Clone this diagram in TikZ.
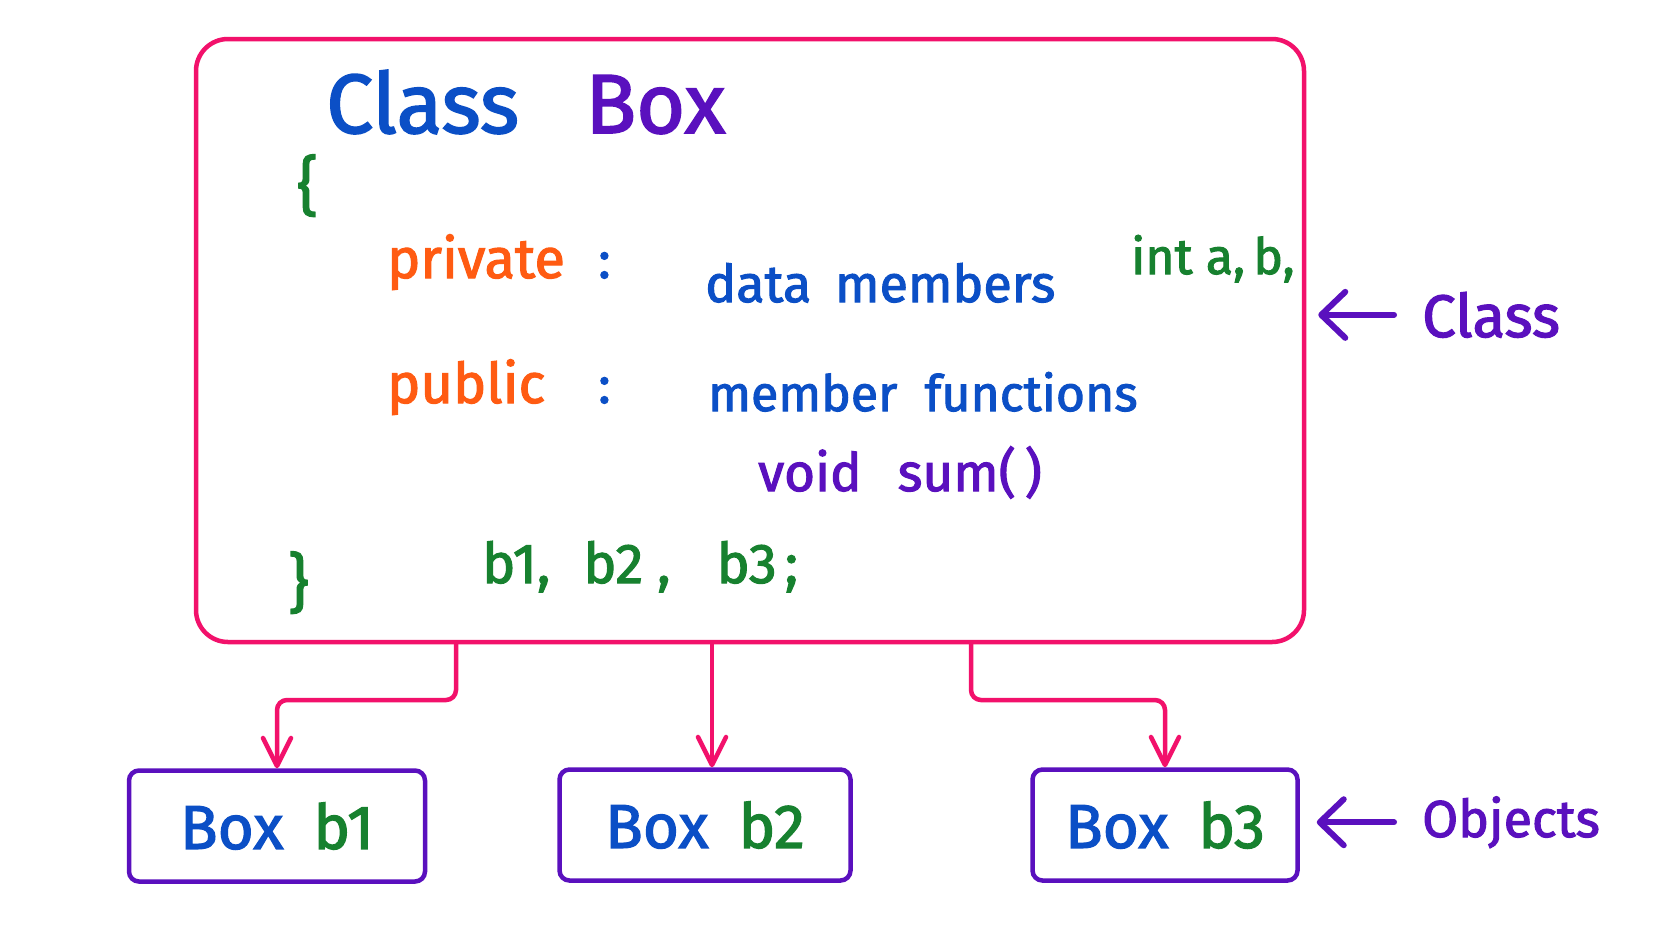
\documentclass[tikz,border=0pt]{standalone}
\usepackage{fontspec}
\setmainfont{Fira Sans}[FakeBold=2]
\usetikzlibrary{arrows.meta}
\definecolor{cpink}{HTML}{F2116B}
\definecolor{cpurple}{HTML}{5A10BE}
\definecolor{cblue}{HTML}{0B4FC6}
\definecolor{cgreen}{HTML}{17812F}
\definecolor{corange}{HTML}{FF5B12}
\newcommand{\myfs}[1]{\fontsize{#1}{#1}\selectfont}
\begin{document}
\begin{tikzpicture}[x=1pt,y=-1pt,
  txt/.style={inner sep=0pt, anchor=base west},
  conn/.style={draw=cpink, line width=4.5pt, rounded corners=10pt, line cap=round,
    -{Straight Barb[length=28pt,width=28pt,round]}},
  objbox/.style={draw=cpurple, line width=4.5pt, rounded corners=10pt, minimum height=111pt, inner sep=0pt},
  side/.style={draw=cpurple, line width=6pt, line cap=round, -{Straight Barb[length=24pt,width=46pt,round]}}]

\useasboundingbox[fill=white] (0,0) rectangle (1662,946);

% class box
\node[draw=cpink, line width=4.5pt, rounded corners=32pt, minimum width=1108pt, minimum height=603pt, inner sep=0pt] (cls) at (750,340.5) {};

% title
\node[txt, text=cblue] (tclass) at (326,133) {\myfs{84}Class};
\node[txt, text=cpurple] (tbox) at (585,133) {\myfs{84}Box};

% body
\node[txt, text=cgreen] (obrace) at (297,208) {\myfs{64}\{};
\node[txt, text=corange] (tpriv) at (387,278) {\myfs{56}private};
\node[txt, text=cblue] (col1) at (598,278) {\myfs{52}:};
\node[txt, text=cblue] (tdata) at (705,302) {\myfs{52}data\hspace{10pt} members};
\node[txt, text=cgreen] (tint) at (1131,274) {\myfs{50}int a,\,b,};
\node[txt, text=corange] (tpub) at (387,403) {\myfs{56}public};
\node[txt, text=cblue] (col2) at (598,403) {\myfs{52}:};
\node[txt, text=cblue] (tfun) at (708,411) {\myfs{50}member\hspace{14pt} functions};
\node[txt, text=cpurple] (tvoid) at (758,491) {\myfs{53}void\hspace{22pt} sum(\,)};
\node[txt, text=cgreen] (cbrace) at (288,605) {\myfs{64}\}};
\node[txt, text=cgreen] (tobjs) at (482,583)
  {\myfs{56}b1,\hspace{33pt}b2\hspace{14pt},\hspace{46pt}b3\hspace{8pt};};

% object boxes
\node[objbox, minimum width=296pt] (b1) at (277,826)
  {\myfs{62}{\color{cblue}Box}\hspace{30pt}{\color{cgreen}b1}};
\node[objbox, minimum width=291pt] (b2) at (705,825)
  {\myfs{62}{\color{cblue}Box}\hspace{30pt}{\color{cgreen}b2}};
\node[objbox, minimum width=265pt] (b3) at (1165,825)
  {\myfs{62}{\color{cblue}Box}\hspace{30pt}{\color{cgreen}b3}};

% connectors
\coordinate (j1) at (456,700);
\coordinate (j2) at (712,770);
\coordinate (j3) at (971,700);
\draw[conn] (cls.south -| j1) -- (j1) -| (b1.north);
\draw[conn] (cls.south -| j2) -- (b2.north -| j2);
\draw[conn] (cls.south -| j3) -- (j3) -| (b3.north);

% side labels
\node[txt, text=cpurple] (lclass) at (1422,337) {\myfs{60}Class};
\node[txt, text=cpurple] (lobj) at (1422,837) {\myfs{52}Objects};
\draw[side] ([xshift=-28pt]lclass.west) -- ([xshift=12pt]cls.east |- lclass.west);
\draw[side] ([xshift=-28pt]lobj.west) -- ([xshift=17pt]b3.east |- lobj.west);
\end{tikzpicture}
\end{document}
